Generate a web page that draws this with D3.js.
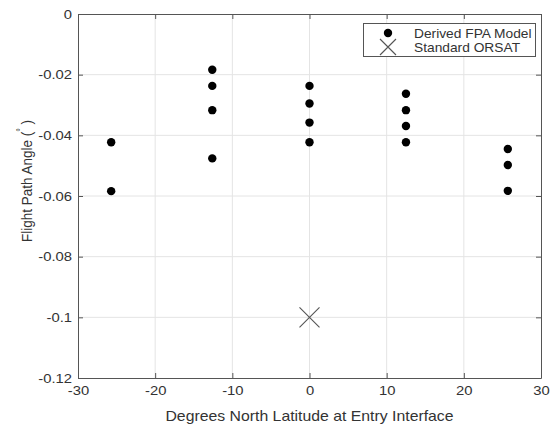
<!DOCTYPE html>
<html><head><meta charset="utf-8">
<script src="https://cdn.jsdelivr.net/npm/d3@7"></script>
<style>body{margin:0;background:#fff}svg{display:block}text{font-family:"Liberation Sans",Arial,sans-serif}</style>
</head><body>
<svg id="c" width="554" height="426"></svg>
<script>
const xTicks = [-30,-20,-10,0,10,20,30];
const xTickLabels = ["-30","-20","-10","0","10","20","30"];
const yTicks = [0,-0.02,-0.04,-0.06,-0.08,-0.1,-0.12];
const yTickLabels = ["0","-0.02","-0.04","-0.06","-0.08","-0.1","-0.12"];
const fpaLat = [-25.7,-25.7, -12.6,-12.6,-12.6,-12.6, 0,0,0,0, 12.5,12.5,12.5,12.5, 25.7,25.7,25.7];
const fpaVal = [-0.0423,-0.0584, -0.0184,-0.0237,-0.0317,-0.0476, -0.0237,-0.0295,-0.0358,-0.0423, -0.0263,-0.0317,-0.0369,-0.0423, -0.0445,-0.0498,-0.0583];
const orsatLat = [0];
const orsatVal = [-0.1];
const legendLabels = ["Derived FPA Model","Standard ORSAT"];

const SX = 1.14; // horizontal text stretch
const svg = d3.select("#c");
const L=78,R=541,T=14,B=378;
const x = d3.scaleLinear().domain([-30,30]).range([L,R]);
const y = d3.scaleLinear().domain([-0.12,0]).range([B,T]);
const axCol="#555", txtCol="#333";

// grid
svg.append("g").selectAll("line").data(xTicks.slice(1,-1)).join("line")
  .attr("x1",d=>x(d)).attr("x2",d=>x(d)).attr("y1",T).attr("y2",B)
  .attr("stroke","#e4e4e4").attr("stroke-width",1);
svg.append("g").selectAll("line").data(yTicks.slice(1,-1)).join("line")
  .attr("y1",d=>y(d)).attr("y2",d=>y(d)).attr("x1",L).attr("x2",R)
  .attr("stroke","#e4e4e4").attr("stroke-width",1);

// axes
const fmtY = d=>yTickLabels[yTicks.indexOf(d)];
const fmtX = d=>xTickLabels[xTicks.indexOf(d)];
const ax = [
  svg.append("g").attr("transform",`translate(0,${B})`).call(d3.axisBottom(x).tickValues(xTicks).tickFormat(fmtX).tickSizeInner(-5).tickSizeOuter(0).tickPadding(8)),
  svg.append("g").attr("transform",`translate(0,${T})`).call(d3.axisTop(x).tickValues(xTicks).tickSizeInner(-5).tickSizeOuter(0).tickFormat("")),
  svg.append("g").attr("transform",`translate(${L},0)`).call(d3.axisLeft(y).tickValues(yTicks).tickFormat(fmtY).tickSizeInner(-5).tickSizeOuter(0).tickPadding(6)),
  svg.append("g").attr("transform",`translate(${R},0)`).call(d3.axisRight(y).tickValues(yTicks).tickSizeInner(-5).tickSizeOuter(0).tickFormat(""))
];
ax.forEach(g=>{
  g.select(".domain").attr("stroke",axCol);
  g.selectAll(".tick line").attr("stroke",axCol);
  g.selectAll(".tick text").attr("fill",txtCol).style("font-size","13px").style("font-family","'Liberation Sans',Arial,sans-serif")
   .each(function(){const t=d3.select(this);const xv=+t.attr("x")||0;t.attr("x",xv/SX).attr("transform",`scale(${SX},1)`);});
});

// data
svg.append("g").selectAll("circle").data(fpaLat.map((d,i)=>[d,fpaVal[i]])).join("circle")
  .attr("cx",d=>x(d[0])).attr("cy",d=>y(d[1])).attr("r",4.2).attr("fill","#000");
const cross=(g,cx,cy,s)=>{
  g.append("path").attr("d",`M${cx-s},${cy-s}L${cx+s},${cy+s}M${cx-s},${cy+s}L${cx+s},${cy-s}`)
   .attr("stroke","#555").attr("stroke-width",1.1).attr("fill","none");
};
orsatLat.forEach((d,i)=>cross(svg,x(d),y(orsatVal[i]),10));

// legend
const lg=svg.append("g");
lg.append("rect").attr("x",363.5).attr("y",23.5).attr("width",172).attr("height",33).attr("fill","#fff").attr("stroke","#555");
lg.append("circle").attr("cx",388).attr("cy",33).attr("r",4.2).attr("fill","#000");
cross(lg,388,47,8);
legendLabels.forEach((t,i)=>lg.append("text").attr("transform",`translate(414,${37.5+i*14.5}) scale(1.06,1)`)
  .attr("fill",txtCol).style("font-size","13px").text(t));

// titles
svg.append("text").attr("transform",`translate(${(L+R)/2},421) scale(1.13,1)`).attr("text-anchor","middle").attr("fill",txtCol).style("font-size","14px").text("Degrees North Latitude at Entry Interface");
const yt=svg.append("text").attr("transform","translate(32,181) rotate(-90) scale(1,1.12)").attr("text-anchor","middle").attr("fill",txtCol).style("font-size","13.5px");
yt.append("tspan").text("Flight Path Angle (");
yt.append("tspan").attr("dy",-7).style("font-size","9px").text("°");
yt.append("tspan").attr("dy",7).text(" )");
</script>
</body></html>
